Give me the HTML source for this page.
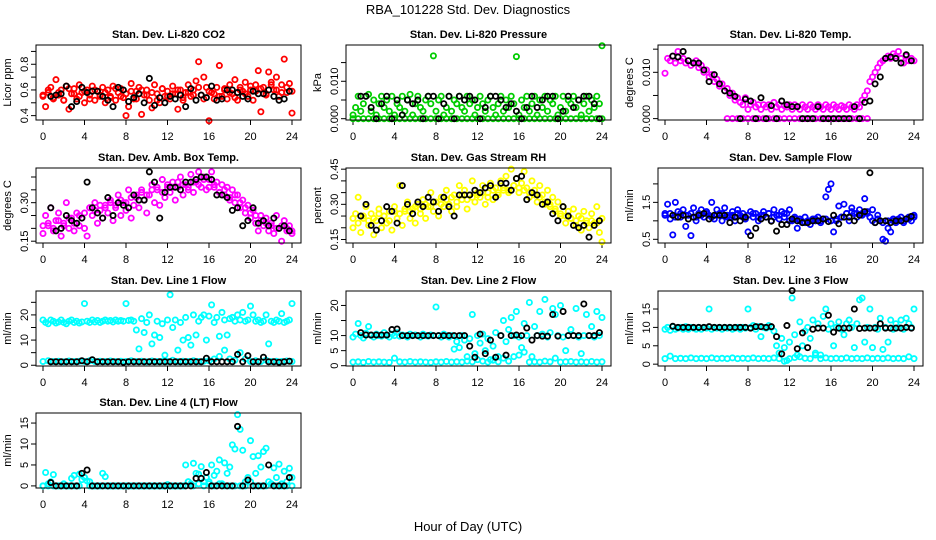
<!DOCTYPE html>
<html><head><meta charset="utf-8"><style>
html,body{margin:0;padding:0;background:#fff;}
svg{display:block;font-family:"Liberation Sans",Arial,sans-serif;}
</style></head><body>
<svg id="chart" width="936" height="540" viewBox="0 0 936 540">
<text x="468" y="14" text-anchor="middle" font-size="13">RBA_101228  Std. Dev. Diagnostics</text>
<text x="468" y="531" text-anchor="middle" font-size="13">Hour of Day (UTC)</text>
</svg>
<script>
// ---------- data ----------
const xTicks = [0,4,8,12,16,20,24];
const panelTitles = ["Stan. Dev. Li-820 CO2","Stan. Dev. Li-820 Pressure","Stan. Dev. Li-820 Temp.","Stan. Dev. Amb. Box Temp.","Stan. Dev. Gas Stream RH","Stan. Dev. Sample Flow","Stan. Dev. Line 1 Flow","Stan. Dev. Line 2 Flow","Stan. Dev. Line 3 Flow","Stan. Dev. Line 4 (LT) Flow"];
const yLabels = ["Licor ppm","kPa","degrees C","degrees C","percent","ml/min","ml/min","ml/min","ml/min","ml/min"];
const seriesColors = ["#ff0000","#00cd00","#ff00ff","#ff00ff","#ffff00","#0000ff","#00ffff","#00ffff","#00ffff","#00ffff"];
const yRanges = [[0.366,0.95],[-0.00035,0.0197],[-0.0003,0.0159],[0.143,0.435],[0.135,0.455],[0.40,2.43],[-0.3,29.5],[-0.1,24.8],[-0.5,19.9],[-0.5,17.4]];
const yTickVals = [[.4,.5,.6,.7,.8,.9],[0,.005,.01,.015],[0,.005,.01,.015],[.15,.2,.25,.3,.35,.4],[.15,.2,.25,.3,.35,.4,.45],[.5,1,1.5,2],[0,5,10,15,20,25],[0,5,10,15,20],[0,5,10,15],[0,5,10,15]];
const yTickLabelVals = [[.4,.6,.8],[0,.01],[0,.01],[.15,.3],[.15,.3,.45],[.5,1.5],[0,10,20],[0,5,10,20],[0,5,10,15],[0,5,10,15]];
const yTickLabelText = [["0.4","0.6","0.8"],["0.000","0.010"],["0.000","0.010"],["0.15","0.30"],["0.15","0.30","0.45"],["0.5","1.5"],["0","10","20"],["0","5","10","20"],["0","5","10","15"],["0","5","10","15"]];

// colored series A: 15-min samples (t = i/4)
const coA_co2 = [0.55,0.47,0.58,0.62,0.53,0.68,0.56,0.60,0.52,0.63,0.45,0.57,0.61,0.53,0.64,0.58,0.50,0.60,0.56,0.63,0.52,0.59,0.55,0.62,0.50,0.60,0.55,0.63,0.52,0.58,0.61,0.54,0.40,0.47,0.65,0.53,0.59,0.62,0.41,0.56,0.60,0.52,0.46,0.64,0.57,0.50,0.61,0.55,0.59,0.53,0.63,0.57,0.45,0.60,0.52,0.58,0.64,0.55,0.60,0.67,0.82,0.56,0.70,0.62,0.36,0.58,0.53,0.62,0.79,0.55,0.60,0.53,0.64,0.57,0.68,0.52,0.62,0.59,0.66,0.55,0.60,0.52,0.64,0.75,0.43,0.62,0.57,0.74,0.66,0.60,0.70,0.55,0.64,0.84,0.58,0.65,0.42];
const coA_pres = [.001,.003,.006,.002,.004,.006,.0065,.002,.005,.001,.004,.006,.003,.005,.002,.006,.001,.004,.003,.006,.002,.005,.0065,.001,.004,.006,.003,.002,.005,.006,.004,.0168,.002,.005,.006,.001,.003,.006,.002,.005,.004,.006,.003,.002,.006,.004,.005,.001,.003,.006,.004,.002,.005,.006,.003,.001,.004,.006,.002,.005,.003,.006,.004,.0166,.001,.005,.003,.006,.002,.004,.006,.001,.005,.003,.006,.002,.005,.004,.006,.001,.003,.006,.002,.005,.004,.006,.003,.005,.001,.004,.006,.002,.005,.003,.006,.004,.0195];
const coA_temp = [.0098,.013,.0125,.0135,.012,.0145,.0125,.013,.012,.0125,.0115,.012,.0125,.011,.0115,.01,.0105,.009,.0095,.008,.0085,.007,.0075,.006,.0065,.005,.0055,.004,.0045,.0035,.003,.0045,.002,.003,.0035,.0025,.003,.002,.003,.0025,.003,.002,.0035,.0025,.003,.002,.0028,.0025,.003,.002,.003,.0025,.002,.003,.0025,.002,.003,.0025,.002,.003,.0025,.002,.003,.0025,.002,.003,.0025,.002,.0028,.0025,.002,.003,.0025,.002,.003,.0025,.004,.005,.006,.008,.009,.010,.011,.012,.0125,.013,.0135,.013,.014,.0135,.0145,.013,.012,.0135,.0125,.013,.0125];
const coA_box = [.18,.25,.21,.28,.19,.23,.26,.17,.22,.30,.20,.24,.19,.26,.21,.24,.20,.17,.28,.25,.30,.22,.27,.24,.29,.26,.31,.23,.28,.33,.25,.30,.27,.35,.24,.29,.32,.28,.35,.31,.26,.33,.37,.30,.35,.29,.39,.32,.36,.34,.38,.31,.36,.40,.33,.37,.35,.41,.34,.38,.42,.36,.40,.35,.39,.42,.36,.38,.34,.37,.33,.36,.31,.35,.30,.33,.28,.31,.26,.29,.24,.27,.22,.19,.25,.21,.24,.19,.22,.18,.25,.20,.15,.23,.19,.21,.18];
const coA_rh = [.20,.26,.33,.18,.24,.29,.21,.26,.17,.23,.28,.20,.25,.22,.27,.19,.29,.24,.38,.21,.27,.31,.24,.28,.22,.30,.26,.32,.24,.29,.35,.27,.31,.25,.33,.29,.36,.30,.27,.34,.29,.38,.32,.36,.28,.34,.40,.31,.35,.33,.38,.30,.35,.39,.32,.37,.34,.40,.36,.42,.35,.45,.38,.41,.35,.39,.44,.37,.33,.40,.36,.31,.38,.34,.30,.36,.29,.33,.27,.31,.25,.29,.22,.27,.24,.28,.21,.25,.19,.27,.23,.20,.26,.22,.29,.18,.14];
const coA_samp = [1.2,1.45,1.05,0.62,1.5,1.25,1.1,1.3,0.85,1.15,0.6,1.35,1.0,1.2,1.3,1.1,1.25,1.15,1.5,1.05,1.3,1.2,1.0,1.35,1.15,1.1,1.25,1.0,1.3,1.15,1.2,1.05,0.7,1.25,1.1,1.2,1.0,1.15,1.25,1.1,1.2,1.0,1.3,1.15,1.05,1.25,1.1,1.2,1.3,1.0,1.1,0.8,1.05,0.95,1.1,1.0,0.9,1.05,1.0,1.1,0.95,1.05,1.65,1.85,2.0,0.7,1.0,1.4,1.1,1.45,1.2,1.0,1.35,1.2,1.1,1.3,1.2,1.6,1.25,1.1,1.3,0.95,1.15,1.0,0.5,0.45,0.8,0.7,1.05,0.95,1.0,1.1,0.95,1.05,1.1,1.0,1.15];
const coA_l1 = [18,17,16.5,18,17.5,16.8,17.2,18,17,16.5,17.5,18,17,17.5,16.8,17.2,24.5,17.5,17,18,17.2,17.8,17,17.5,18,17.5,17.8,17.2,18,17.5,17.8,17.5,24.5,17.8,18,17.5,14,6.5,18.5,13,17,20,8.5,12,17.5,11,16.5,4,18,28,15,18,6,17,10,19,11,8,20,12,17.5,19,20,10,19.5,24,17,19,11.5,21,18,12,18.5,19,17.5,20,18,21,17.5,18,23.5,20,17.5,18,17,17.5,20,8.5,17.5,17,18,17.5,20.5,17,17.5,18,24.5];
const coA_l2 = [9.5,10.5,14,10,9.2,10.8,13,10,9.5,10.5,10,9.8,11,10,9.5,10.5,10,11,9.8,10.2,10,9.5,10.5,10,10.2,10,9.5,10.5,10,9.8,10.2,10,19.5,10,9.5,10.5,10,9.5,10,5.5,8,6,10,8.5,3,9,17,4,10,7.5,10.5,5,9,2,6.5,11,3,10,15,8,12,16,10,18,9.5,6,14,10,21,3,13,10,18,10.5,22,9.5,11,19,17,10,20,9.5,5,10,12,10,19,9.5,4,10,17,10,13,9.5,18,10,16];
const coA_l3 = [9.5,10,9.2,10.2,9.5,9.8,10,9.5,10.2,9.5,10,9.8,9.5,10,9.5,10,9.8,15,9.5,10,9.8,10,9.5,10,9.8,10,9.5,9.8,10,9.5,10,9.8,15,10,10.5,9.5,10.2,7.5,10,9.8,10.5,10,9,5,3,7,4.5,1,6,18,8,2.5,11.5,5,9,10,7,12,3,11,2.5,13,15,9.5,11,5,10,11.5,9.5,8,11,12,10,4.5,11,17.5,18,6,10,15,4.5,10,9.5,12.5,4,10,6,12,9.5,11,10,12,9.5,12.5,11,10,15];
const coA_l4 = [0,3.2,0,1,2.7,0,0,0,0.5,0,0,1.8,2.5,0,2.8,1.5,2,1.2,0,0,0,0,0,3,2.2,0,0,0,0,0,0,0,0,0,0,0,0,0,0,0,0,0,0,0,0,0,0,0,0.3,0,0,0,0,0,0,5,1,0.5,5.4,3,2.8,4.6,1,2,0.5,5,2.5,3.5,6.2,0.5,5.5,3,4.5,9.8,8.8,17,13.5,8.5,1,2,10.8,7,3,7.2,4.5,8.2,9,1,0.5,4.3,2,5.2,0.5,3.5,1,4.2,2];

// colored series B: 30-min samples (t = i/2), null = no point
const coB_co2 = [0.56,0.60,0.54,0.58,0.52,0.61,0.57,0.55,0.59,0.53,0.60,0.56,0.58,0.54,0.61,0.55,0.57,0.59,0.53,0.60,0.56,0.58,0.52,0.61,0.55,0.57,0.60,0.54,0.58,0.56,0.62,0.53,0.59,0.57,0.55,0.61,0.58,0.54,0.60,0.57,0.63,0.59,0.61,0.56,0.64,0.60,0.58,0.62,0.59];
const coB_pres = [0,0,0,0,0,0,0,0,0,0,0,0,0,0,0,0,0,0,0,0,0,0,0,0,0,0,0,0,0,0,0,0,0,0,0,0,0,0,0,0,0,0,0,0,0,0,0,0,0];
const coB_temp = [null,null,null,null,null,null,null,null,null,null,null,null,0,0,0,0,0,0,0,0,0,0,0,0,0,0,0,0,0,0,0,0,0,0,0,0,0,0,0,0,null,null,null,null,null,null,null,null,null];
const coB_box = [.21,.22,.20,.23,.21,.24,.22,.25,.26,.28,.27,.29,.28,.30,.29,.31,.30,.32,.33,.34,.33,.35,.36,.34,.37,.36,.38,.37,.36,.38,.37,.39,.36,.37,.34,.35,.32,.33,.30,.28,.26,.25,.23,.22,.21,.20,.21,.20,.19];
const coB_rh = [.24,.22,.25,.23,.24,.26,.25,.23,.27,.26,.28,.27,.29,.28,.30,.29,.31,.30,.32,.33,.31,.34,.32,.33,.34,.35,.33,.36,.35,.37,.36,.38,.37,.36,.35,.34,.33,.31,.30,.28,.26,.25,.24,.23,.24,.22,.23,.22,.24];
const coB_samp = [1.15,1.2,1.1,1.2,1.15,1.2,1.1,1.15,1.2,1.1,1.15,1.2,1.1,1.15,1.2,1.1,1.15,1.2,1.1,1.15,1.2,1.1,1.15,1.2,1.0,1.05,1.0,0.95,1.0,1.05,1.0,1.05,1.0,1.05,1.1,1.2,1.25,1.2,1.15,1.2,1.0,1.05,0.95,1.0,1.0,1.05,1.0,1.05,1.1];
const coB_l1 = [1.5,1.8,1.5,1.6,1.4,1.7,1.5,1.6,1.5,1.8,1.5,1.6,1.5,1.7,1.5,1.6,1.5,1.8,1.5,1.6,1.4,1.7,1.5,1.6,1.5,2.0,1.5,1.6,1.5,1.8,1.5,1.6,1.8,2.5,3.5,6,2.5,2.0,5,2.5,1.5,1.8,1.5,2,1.5,1.6,1.5,1.7,1.5];
const coB_l2 = [1.2,1.3,1.1,1.4,1.2,1.3,1.2,1.1,2.5,1.3,1.2,1.4,1.2,1.3,1.2,1.1,1.3,1.2,1.4,1.2,1.3,1.2,1.5,1.3,2,1.5,1.2,1.8,1.3,2.5,1.5,3,3.5,4.5,1.2,1.3,1.2,1.5,1.3,2.5,1.2,1.3,1.4,1.2,1.3,1.2,1.4,1.2,1.3];
const coB_l3 = [1.5,2.2,1.5,1.6,1.5,1.7,1.5,1.6,1.5,1.7,1.5,1.6,1.5,1.7,1.5,1.6,1.5,1.7,1.5,1.6,1.5,1.7,1.5,0.8,1.5,1.8,2,1.6,1.5,2.5,1.5,1.7,1.5,1.6,1.5,1.7,1.5,1.6,1.5,1.7,1.5,1.6,1.5,1.7,1.5,1.6,1.5,2,1.5];
const coB_l4 = [0,0.5,0,0,0,0,0,0,2,1,0,0,0,0,0,0,0,0,0,0,0,0,0,0,0,0,0,0,1,0,0.5,0,1,0,0.5,0,0,0,0,0,1,0,0,0,0.5,0,0,0,0];

// black series: 30-min samples (t = 0.25 + i/2)
const bk_co2 = [null,0.55,0.56,0.57,0.63,0.47,0.51,0.62,0.58,0.59,0.59,0.55,0.52,0.47,0.62,0.60,0.51,0.54,0.57,0.50,0.69,0.48,0.54,0.50,0.55,0.53,0.56,0.47,0.61,0.52,0.56,0.54,0.63,0.52,0.53,0.60,0.60,0.58,0.55,0.53,0.59,0.57,0.57,0.60,0.55,0.52,0.53,0.59];
const bk_pres = [null,.006,.006,.003,0,.004,.006,0,.005,.001,.005,.004,.005,0,.006,.006,0,.004,.006,0,.006,.005,.006,.005,0,.003,.006,.006,.005,.003,.004,.002,0,.003,.006,.003,.005,.006,.006,0,.002,.006,.003,.005,.006,.006,.004,0];
const bk_temp = [null,.0135,.0133,.0145,.0125,.012,.012,.0105,.008,.0095,.0075,.006,.0055,.0048,0,.0042,.0038,0,.0045,0,.0028,0,.0038,.003,.0026,.0026,0,0,0,.0026,0,0,0,0,0,0,.0026,0,.0035,.0038,.0075,.009,.013,.0133,.013,.012,.0138,.0125];
const bk_box = [null,.28,.19,.2,.25,.23,.22,.24,.38,.28,.26,.24,.32,.25,.30,.29,.28,.33,.31,.31,.42,.38,.24,.34,.36,.36,.35,.38,.38,.39,.40,.40,.39,.33,.33,.32,.27,.28,.21,.23,.28,.22,.23,.21,.24,.20,.21,.19];
const bk_rh = [null,.25,.30,.21,.19,.23,.29,.27,.22,.38,.30,.26,.31,.29,.33,.31,.27,.33,.29,.25,.34,.34,.34,.36,.35,.37,.38,.33,.39,.39,.36,.41,.42,.32,.35,.34,.30,.31,.26,.23,.29,.25,.21,.20,.21,.16,.21,.23];
const bk_samp = [null,1.15,1.1,1.15,1.05,1.1,1.15,1.2,1.05,1.15,1.15,1.15,0.95,1.1,1.0,1.1,0.6,0.8,1.05,1.1,0.99,0.72,0.9,0.9,1.05,1.0,0.95,0.95,1.0,1.0,1.05,0.98,1.15,0.92,1.1,1.1,1.0,1.15,1.25,2.3,0.95,1.0,1.0,0.95,1.0,1.0,1.05,1.12];
const bk_l1 = [null,1.4,1.4,1.4,1.4,1.4,1.4,1.8,1.4,2.2,1.4,1.4,1.4,1.4,1.4,1.2,1.4,1.4,1.4,1.4,1.4,1.4,1.4,1.4,1.4,1.4,1.4,1.4,1.4,1.4,1.4,2.8,1.4,1.4,1.4,1.4,1.4,4.3,1.4,3.8,1.4,1.4,3.2,1.4,1.4,1.2,1.4,1.6];
const bk_l2 = [null,11,10.2,10.2,10.2,10.2,10.2,12,12.2,10,10,10,10,10,10,10,10,10,10,10,10,10,6.5,2.8,10.5,4,8.5,2.8,10,3.5,10,10.2,10,12.5,8.5,10,9.8,9.8,17,9.8,18,10,10,10,20.5,10,10,11];
const bk_l3 = [null,10.3,10,10,10,10,10,10,10.2,10,10,10,10,10,10,10,9.8,10.2,10.2,10,10.2,7.5,2.8,10.5,20,4.2,8.5,4.5,9.5,9.8,9.8,13.3,8.7,9.8,9.8,9.8,15,9.7,9.8,9.8,9.8,11,9.8,9.8,9.8,9.8,10,9.8];
const bk_l4 = [null,0.8,0,0,0,0,0,3,3.8,0,0,0,0,0,0,0,0,0,0,0,0,0,0,0,0,0,0,0,0,1.8,1.8,3.2,0,0,0,0,0,14.2,0,1.4,0,0,0,5,0,0,0,2];

const colorA = [coA_co2,coA_pres,coA_temp,coA_box,coA_rh,coA_samp,coA_l1,coA_l2,coA_l3,coA_l4];
const colorB = [coB_co2,coB_pres,coB_temp,coB_box,coB_rh,coB_samp,coB_l1,coB_l2,coB_l3,coB_l4];
const blackS = [bk_co2,bk_pres,bk_temp,bk_box,bk_rh,bk_samp,bk_l1,bk_l2,bk_l3,bk_l4];

// ---------- layout ----------
const colL = [36,346,658], panelW = 265;
const rowT = [45,168,291,413], panelH = 75;
const NS = "http://www.w3.org/2000/svg";
const svg = document.getElementById("chart");
function mk(tag, attrs, parent){
  const e = document.createElementNS(NS, tag);
  for (const k in attrs) e.setAttribute(k, attrs[k]);
  (parent||svg).appendChild(e);
  return e;
}
function drawPanel(p){
  const L = colL[p%3], T = rowT[Math.floor(p/3)], R = L+panelW, B = T+panelH;
  const g = mk("g", {});
  
  
  const x0 = L+7, xs = (panelW-16)/24;
  const X = t => x0 + t*xs;
  const [ymin,ymax] = yRanges[p];
  const Y = v => B - (v-ymin)/(ymax-ymin)*panelH;
  const ti = mk("text", {x:(L+R)/2, y:T-7, "text-anchor":"middle", "font-size":"11", "font-weight":"bold"}, g);
  ti.textContent = panelTitles[p];
  
  
  const yl = mk("text", {transform:`translate(${L-25},${(T+B)/2}) rotate(-90)`, "text-anchor":"middle", "font-size":"11"}, g);
  yl.textContent = yLabels[p];
  
  
  yTickVals[p].forEach(v => {
    const tk = mk("line", {x1:L-5, x2:L, y1:Y(v), y2:Y(v), stroke:"#000", "stroke-width":"1"}, g);
    
    
  });
  yTickLabelVals[p].forEach((v,i) => {
    const tl = mk("text", {transform:`translate(${L-8},${Y(v)}) rotate(-90)`, "text-anchor":"middle", "font-size":"11"}, g);
    tl.textContent = yTickLabelText[p][i];
    
    
  });
  xTicks.forEach(t => {
    const tk = mk("line", {x1:X(t), x2:X(t), y1:B, y2:B+5, stroke:"#000", "stroke-width":"1"}, g);
    
    
    const tl = mk("text", {x:X(t), y:B+20, "text-anchor":"middle", "font-size":"11"}, g);
    tl.textContent = String(t);
    
    
  });
  const col = seriesColors[p];
  colorA[p].forEach((v,i) => {
    if (v === null) return;
    const c = mk("circle", {cx:X(i/4), cy:Y(v), r:2.6, fill:"none", stroke:col, "stroke-width":"1.8"}, g);
    
    
  });
  colorB[p].forEach((v,i) => {
    if (v === null) return;
    const c = mk("circle", {cx:X(i/2), cy:Y(v), r:2.6, fill:"none", stroke:col, "stroke-width":"1.8"}, g);
    
    
  });
  blackS[p].forEach((v,i) => {
    if (v === null) return;
    const c = mk("circle", {cx:X(0.25+i/2), cy:Y(v), r:2.6, fill:"none", stroke:"#000", "stroke-width":"1.8"}, g);
    
    
  });
  const bx = mk("rect", {x:L, y:T, width:panelW, height:panelH, fill:"none", stroke:"#000", "stroke-width":"1"}, g);
  
  
}
for (let p=0; p<10; p++) drawPanel(p);
</script>
</body></html>
